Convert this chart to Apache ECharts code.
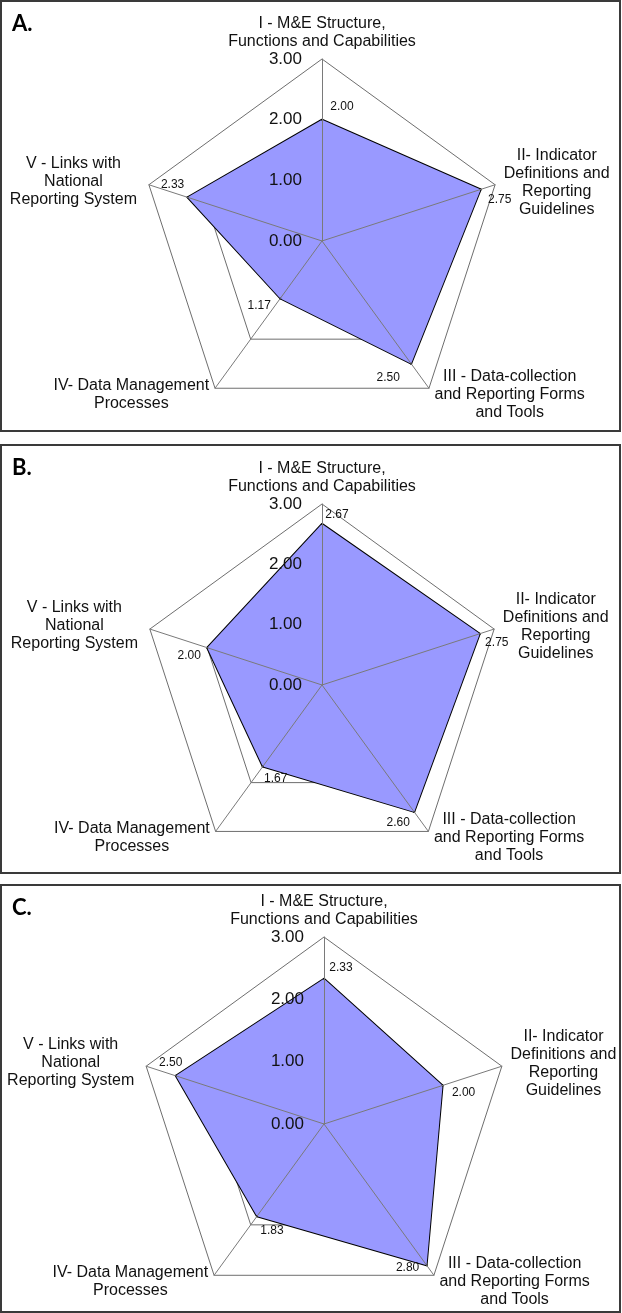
<!DOCTYPE html>
<html>
<head>
<meta charset="utf-8">
<script src="https://cdn.jsdelivr.net/npm/echarts@6/dist/echarts.min.js"></script>
<style>
html,body{margin:0;padding:0;background:#fff;}
#chart{width:622px;height:1313px;}
</style>
</head>
<body>
<div id="chart"></div>
<script>
// ---------- data ----------
const categories = [
  'I - M&E Structure,\nFunctions and Capabilities',
  'II- Indicator\nDefinitions and\nReporting\nGuidelines',
  'III - Data-collection\nand Reporting Forms\nand Tools',
  'IV- Data Management\nProcesses',
  'V - Links with\nNational\nReporting System'
];
const axisMin = 0;
const axisMax = 3;
const tickLabels = ['0.00', '1.00', '2.00', '3.00'];
const panelNames = ['A.', 'B.', 'C.'];
const valuesA = [2.00, 2.75, 2.50, 1.17, 2.33];
const valuesB = [2.67, 2.75, 2.60, 1.67, 2.00];
const valuesC = [2.33, 2.00, 2.80, 1.83, 2.50];

// ---------- layout / style ----------
const FONT = "'Liberation Sans', Arial, sans-serif";
const panels = [
  { values: valuesA, center: [322, 241], radius: 182, box: [1, 1, 619, 430],
    offsets: [[20, -13], [19, 10], [-23, 14], [-21, 7], [-15, -13]] },
  { values: valuesB, center: [322, 685], radius: 181, box: [1, 445, 619, 428],
    offsets: [[15, -9], [17, 9], [-16, 11], [13, 12], [-18, 8]] },
  { values: valuesC, center: [324, 1124], radius: 187, box: [1, 885, 619, 427],
    offsets: [[17, -11], [21, 7], [-19, 2], [15, 14], [-5, -13]] }
];
// ECharts radar runs counter-clockwise; the reference runs clockwise
const order = [0, 4, 3, 2, 1];
const nameWidths = [190, 108, 152, 158, 130];
const nameGaps = [8, 8, 8, 8, 11];

const rich = {};
categories.forEach((c, k) => {
  rich['n' + k] = { width: nameWidths[k], align: 'center', fontSize: 16, lineHeight: 18,
                    fontFamily: FONT, color: '#111' };
});

const radars = [];
const series = [];
panels.forEach((p, pi) => {
  // grid rings + names (below the series)
  radars.push({
    center: p.center, radius: p.radius, startAngle: 90, splitNumber: 3, shape: 'polygon', z: 0,
    indicator: order.map(i => ({ name: categories[i], min: axisMin, max: axisMax, nameGap: nameGaps[i] })),
    axisName: {
      color: '#111', fontFamily: FONT, fontSize: 16, lineHeight: 18,
      formatter: (name) => {
        const k = categories.indexOf(name);
        return name.split('\n').map(l => '{n' + k + '|' + l + '}').join('\n');
      },
      rich: rich
    },
    splitLine: { show: true, lineStyle: { color: '#6e6e6e', width: 1 } },
    splitArea: { show: false },
    axisLine: { show: false },
    axisTick: { show: false },
    axisLabel: { show: false }
  });
  // spokes + tick labels (above the series)
  radars.push({
    center: p.center, radius: p.radius, startAngle: 90, splitNumber: 3, shape: 'polygon', z: 3,
    indicator: order.map((i, j) => ({ name: '', min: axisMin, max: axisMax, axisLabel: { show: j === 0 } })),
    axisName: { show: false },
    splitLine: { show: false },
    splitArea: { show: false },
    axisLine: { show: true, lineStyle: { color: '#7a7a7a', width: 1 } },
    axisTick: { show: false },
    axisLabel: {
      show: false, color: '#111', fontFamily: FONT, fontSize: 17, margin: 20,
      formatter: (v) => tickLabels[Math.round(v - axisMin)]
    }
  });
  const texts = p.values.map(v => v.toFixed(2));
  series.push({
    type: 'radar', radarIndex: pi * 2, z: 2, silent: true,
    symbol: 'circle', symbolSize: 2,
    itemStyle: { color: '#000' },
    lineStyle: { color: '#000', width: 2 },
    areaStyle: { color: '#9999FF', opacity: 1 },
    emphasis: { disabled: true },
    label: {
      show: true, position: 'inside', color: '#111', fontFamily: FONT, fontSize: 12,
      formatter: (prm) => (typeof prm.value === 'number' ? prm.value.toFixed(2) : '')
    },
    labelLayout: (prm) => {
      const k = texts.indexOf(prm.text);
      if (k < 0) return {};
      return { dx: p.offsets[k][0], dy: p.offsets[k][1] };
    },
    data: [{ value: order.map(i => p.values[i]), name: panelNames[pi] }]
  });
});

const graphic = [];
panels.forEach((p, pi) => {
  graphic.push({
    type: 'rect', silent: true, z: 10,
    shape: { x: p.box[0], y: p.box[1], width: p.box[2], height: p.box[3] },
    style: { fill: 'none', stroke: '#3a3a3a', lineWidth: 2 }
  });
  graphic.push({
    type: 'text', silent: true, z: 10, x: 12, y: p.box[1] + 12,
    style: { text: panelNames[pi], fontFamily: 'Lato, sans-serif', fontWeight: 'bold',
             fontSize: 22, fill: '#000', align: 'left', verticalAlign: 'top' }
  });
});

const chart = echarts.init(document.getElementById('chart'), null, { renderer: 'canvas' });
chart.setOption({
  animation: false,
  backgroundColor: '#fff',
  radar: radars,
  series: series,
  graphic: graphic
});
</script>
</body>
</html>
